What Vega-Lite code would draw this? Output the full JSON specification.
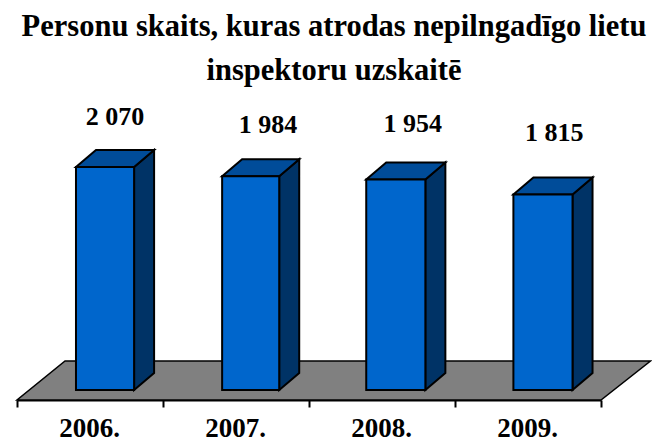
{
"$schema":"https://vega.github.io/schema/vega-lite/v6.json",
"width":584,"height":300,
"autosize":{"type":"none"},
"padding":{"left":17,"right":51,"top":100,"bottom":41},
"background":"white",
"view":{"stroke":null},
"title":{"text":["Personu skaits, kuras atrodas nepilngadīgo lietu","inspektoru uzskaitē"],"font":"Liberation Serif","fontSize":30.5,"fontWeight":"bold","color":"#000000","anchor":"middle","dx":25,"offset":-16,"lineHeight":44,"baseline":"bottom"},
"datasets":{
"floor":[{"x":0,"y":-93,"y2":-93},{"x":0.329,"y":-93,"y2":269},{"x":4.0,"y":-93,"y2":269},{"x":4.339,"y":269,"y2":269}],
"front":[{"year":"2006.","x":0.404,"x2":0.802,"base":0,"value":2070},{"year":"2007.","x":1.405,"x2":1.796,"base":0,"value":1984},{"year":"2008.","x":2.392,"x2":2.797,"base":0,"value":1954},{"year":"2009.","x":3.40,"x2":3.805,"base":0,"value":1815}],
"side":[
{"year":"2006.","x":0.802,"y":0,"y2":2070},{"year":"2006.","x":0.939,"y":158,"y2":2228},
{"year":"2007.","x":1.796,"y":0,"y2":1984},{"year":"2007.","x":1.933,"y":158,"y2":2142},
{"year":"2008.","x":2.797,"y":0,"y2":1954},{"year":"2008.","x":2.934,"y":158,"y2":2112},
{"year":"2009.","x":3.805,"y":0,"y2":1815},{"year":"2009.","x":3.942,"y":158,"y2":1973}],
"top":[
{"year":"2006.","x":0.404,"y":2070,"y2":2070},{"year":"2006.","x":0.541,"y":2070,"y2":2228},{"year":"2006.","x":0.802,"y":2070,"y2":2228},{"year":"2006.","x":0.939,"y":2228,"y2":2228},
{"year":"2007.","x":1.405,"y":1984,"y2":1984},{"year":"2007.","x":1.542,"y":1984,"y2":2142},{"year":"2007.","x":1.796,"y":1984,"y2":2142},{"year":"2007.","x":1.933,"y":2142,"y2":2142},
{"year":"2008.","x":2.392,"y":1954,"y2":1954},{"year":"2008.","x":2.529,"y":1954,"y2":2112},{"year":"2008.","x":2.797,"y":1954,"y2":2112},{"year":"2008.","x":2.934,"y":2112,"y2":2112},
{"year":"2009.","x":3.40,"y":1815,"y2":1815},{"year":"2009.","x":3.537,"y":1815,"y2":1973},{"year":"2009.","x":3.805,"y":1815,"y2":1973},{"year":"2009.","x":3.942,"y":1973,"y2":1973}],
"labels":[{"text":"2 070","x":0.672,"y":2535},{"text":"1 984","x":1.72,"y":2460},{"text":"1 954","x":2.71,"y":2470},{"text":"1 815","x":3.68,"y":2385}]
},
"layer":[
 {"data":{"name":"floor"},"mark":{"type":"area","fill":"#808080","stroke":"#000000","strokeWidth":1.5,"clip":false},
  "encoding":{"x":{"field":"x","type":"quantitative","scale":{"domain":[0,4],"nice":false},"axis":{"title":null,"values":[0,1,2,3,4],"labelExpr":"datum.value==0?'2006.':datum.value==1?'2007.':datum.value==2?'2008.':datum.value==3?'2009.':''","labelOffset":72,"labelFlush":false,"labelOverlap":false,"labelFont":"Liberation Serif","labelFontSize":27,"labelFontWeight":"bold","labelColor":"#000000","domainColor":"#000000","domainWidth":2,"tickColor":"#000000","tickWidth":2,"tickSize":7,"labelPadding":8,"grid":false}},"y":{"field":"y","type":"quantitative","scale":{"domain":[-93,2692],"nice":false},"axis":null},"y2":{"field":"y2"}}},
 {"data":{"name":"side"},"mark":{"type":"area","fill":"#003366","stroke":"#000000","strokeWidth":2},
  "encoding":{"x":{"field":"x","type":"quantitative"},"y":{"field":"y","type":"quantitative"},"y2":{"field":"y2"},"detail":{"field":"year"}}},
 {"data":{"name":"top"},"mark":{"type":"area","fill":"#004C99","stroke":"#000000","strokeWidth":2},
  "encoding":{"x":{"field":"x","type":"quantitative"},"y":{"field":"y","type":"quantitative"},"y2":{"field":"y2"},"detail":{"field":"year"}}},
 {"data":{"name":"front"},"mark":{"type":"rect","fill":"#0066CC","stroke":"#000000","strokeWidth":2},
  "encoding":{"x":{"field":"x","type":"quantitative"},"x2":{"field":"x2"},"y":{"field":"base","type":"quantitative"},"y2":{"field":"value"}}},
 {"data":{"name":"labels"},"mark":{"type":"text","font":"Liberation Serif","fontSize":26,"fontWeight":"bold","color":"#000000","align":"center","baseline":"middle"},
  "encoding":{"x":{"field":"x","type":"quantitative"},"y":{"field":"y","type":"quantitative"},"text":{"field":"text"}}}
]
}
